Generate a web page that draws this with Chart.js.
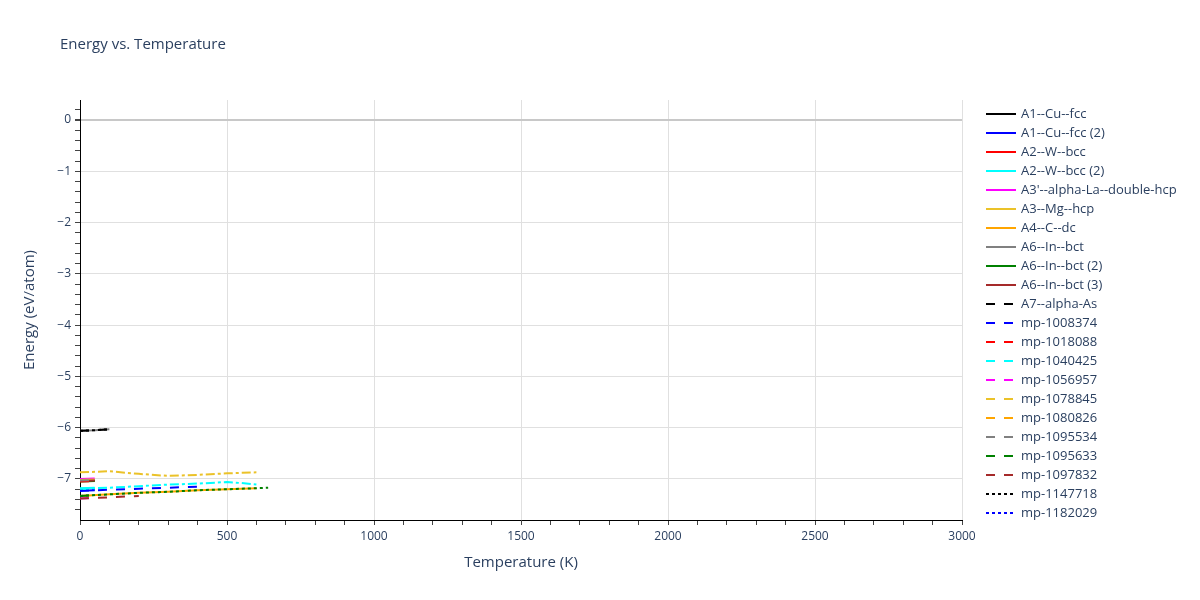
<!DOCTYPE html>
<html>
<head>
<meta charset="utf-8">
<title>Energy vs. Temperature</title>
<script src="https://cdn.jsdelivr.net/npm/chart.js@4/dist/chart.umd.min.js"></script>
<style>
  html, body { margin: 0; padding: 0; background: #fff; }
  #wrap { width: 1200px; height: 600px; position: relative; }
</style>
</head>
<body>
<div id="wrap"><canvas id="energyChart" width="1200" height="600"></canvas></div>
<script>
// Nombres de las series (las 22 primeras salen en la leyenda)
const seriesNames = [
  "A1--Cu--fcc", "A1--Cu--fcc (2)", "A2--W--bcc", "A2--W--bcc (2)",
  "A3'--alpha-La--double-hcp", "A3--Mg--hcp", "A4--C--dc", "A6--In--bct",
  "A6--In--bct (2)", "A6--In--bct (3)", "A7--alpha-As", "mp-1008374",
  "mp-1018088", "mp-1040425", "mp-1056957", "mp-1078845", "mp-1080826",
  "mp-1095534", "mp-1095633", "mp-1097832", "mp-1147718", "mp-1182029",
  "trace 23", "trace 24", "trace 25"
];

// Temperaturas (K) de cada serie
const temperatures = [
  [0, 50], [0, 50], [0, 50], [0, 50],
  [0, 50], [0, 50], [0, 100, 200, 300, 400, 500, 600], [0, 50, 100],
  [0, 50], [0, 50], [0, 50, 100], [0, 100, 200, 300, 400],
  [0, 50], [0, 50], [0, 30], [0, 50], [0, 50],
  [0, 50], [0, 50], [0, 100, 200], [0, 50, 100], [0, 50],
  [0, 100, 200, 300, 400, 500, 600, 640],
  [0, 100, 200, 300, 400, 500, 550, 600],
  [0, 100, 200, 300, 400, 500, 600]
];

// Energías (eV/atom) de cada serie
const energies = [
  [-7.04, -7.03], [-7.23, -7.22], [-7.04, -7.03], [-7.18, -7.17],
  [-7.00, -6.99], [-7.02, -7.01], [-7.33, -7.30, -7.27, -7.25, -7.22, -7.20, -7.18], [-6.06, -6.05, -6.03],
  [-7.05, -7.04], [-7.04, -7.03], [-6.06, -6.05, -6.03], [-7.23, -7.21, -7.19, -7.17, -7.15],
  [-7.05, -7.04], [-7.19, -7.18], [-7.38, -7.37], [-7.02, -7.01], [-7.33, -7.32],
  [-7.03, -7.02], [-7.33, -7.32], [-7.38, -7.36, -7.33], [-6.06, -6.05, -6.03], [-7.22, -7.21],
  [-7.33, -7.30, -7.27, -7.25, -7.22, -7.20, -7.18, -7.17],
  [-7.19, -7.17, -7.14, -7.11, -7.09, -7.06, -7.08, -7.11],
  [-6.87, -6.85, -6.90, -6.94, -6.92, -6.89, -6.87]
];

// Ejes
const xTickStep = 100;
const xLabelEvery = 500;
const yTickStep = 0.2;

const palette = ["#000000", "#0000ff", "#ff0000", "#00ffff", "#ff00ff",
                 "#ebc229", "#ffa500", "#808080", "#008000", "#a52a2a"];
const dashes = { solid: [], dash: [9, 9], dot: [3, 3], dashdot: [9, 3, 3, 3] };
const dashOrder = ["solid", "dash", "dot", "dashdot"];
const legendCount = 22;
const textColor = "#2a3f5f";
const fontFamily = "'Open Sans', 'DejaVu Sans', sans-serif";

function styleFor(i) {
  if (i === 22) return { color: palette[8], dash: dashes.dot };
  if (i === 23) return { color: palette[3], dash: dashes.dashdot };
  if (i === 24) return { color: palette[5], dash: dashes.dashdot };
  return { color: palette[i % 10], dash: dashes[dashOrder[Math.floor(i / 10)]] };
}

function buildDatasets() {
  return seriesNames.map((name, i) => {
    const st = styleFor(i);
    return {
      label: name,
      data: temperatures[i].map((t, k) => ({ x: t, y: energies[i][k] })),
      borderColor: st.color,
      backgroundColor: st.color,
      borderDash: st.dash,
      borderWidth: 2,
      pointRadius: 0,
      pointHoverRadius: 0,
      tension: 0,
      fill: false,
      order: -i // las últimas series quedan encima, como en el original
    };
  });
}

const isMultiple = (v, step) => Math.abs(v / step - Math.round(v / step)) < 1e-6;

// Titulo y leyenda dibujados a mano para imitar el original
const decorPlugin = {
  id: "decor",
  afterDraw(chart) {
    const ctx = chart.ctx;
    ctx.save();
    ctx.fillStyle = textColor;
    ctx.font = "15px " + fontFamily;
    ctx.textBaseline = "middle";
    ctx.textAlign = "left";
    ctx.fillText("Energy vs. Temperature", 60, 45);

    ctx.font = "13px " + fontFamily;
    chart.data.datasets.slice(0, legendCount).forEach((ds, i) => {
      const y = 114 + i * 19;
      ctx.strokeStyle = ds.borderColor;
      ctx.lineWidth = 2;
      ctx.setLineDash(ds.borderDash);
      ctx.beginPath();
      ctx.moveTo(986, y);
      ctx.lineTo(1016, y);
      ctx.stroke();
      ctx.setLineDash([]);
      ctx.fillStyle = textColor;
      ctx.fillText(ds.label, 1021, y);
    });
    ctx.restore();
  }
};

new Chart(document.getElementById("energyChart"), {
  type: "line",
  data: { datasets: buildDatasets() },
  plugins: [decorPlugin],
  options: {
    responsive: false,
    animation: false,
    layout: { padding: { top: 100, right: 238, left: 0, bottom: 0 } },
    plugins: {
      legend: { display: false },
      title: { display: false },
      tooltip: { enabled: false }
    },
    scales: {
      x: {
        type: "linear",
        min: 0,
        max: 3000,
        afterFit: s => { s.height = 80; },
        border: { display: true, color: "#000", width: 1 },
        grid: {
          color: c => (c.tick && c.tick.value > 0 && isMultiple(c.tick.value, xLabelEvery)) ? "#e0e0e0" : "rgba(0,0,0,0)",
          tickColor: "#444",
          tickLength: 5,
          drawTicks: true
        },
        ticks: {
          stepSize: xTickStep,
          autoSkip: false,
          maxRotation: 0,
          padding: 4,
          color: textColor,
          font: { family: fontFamily, size: 12 },
          callback: v => isMultiple(v, xLabelEvery) ? String(v) : ""
        },
        title: {
          display: true,
          text: "Temperature (K)",
          color: textColor,
          font: { family: fontFamily, size: 15 },
          padding: { top: 0, bottom: 28 }
        }
      },
      y: {
        type: "linear",
        min: -7.8,
        max: 0.39,
        afterFit: s => { s.width = 80; },
        border: { display: true, color: "#000", width: 1 },
        grid: {
          color: c => {
            if (!c.tick) return "rgba(0,0,0,0)";
            if (Math.abs(c.tick.value) < 1e-6) return "#c8c8c8";
            return isMultiple(c.tick.value, 1) ? "#e0e0e0" : "rgba(0,0,0,0)";
          },
          lineWidth: c => (c.tick && Math.abs(c.tick.value) < 1e-6) ? 2 : 1,
          tickColor: "#444",
          tickLength: 5,
          drawTicks: true
        },
        ticks: {
          stepSize: yTickStep,
          includeBounds: false,
          autoSkip: false,
          padding: 4,
          color: textColor,
          font: { family: fontFamily, size: 12 },
          callback: v => {
            if (!isMultiple(v, 1)) return "";
            const n = Math.round(v);
            return n < 0 ? "\u2212" + Math.abs(n) : String(n);
          }
        },
        title: {
          display: true,
          text: "Energy (eV/atom)",
          color: textColor,
          font: { family: fontFamily, size: 15 },
          padding: { top: 21, bottom: 0 }
        }
      }
    }
  }
});
</script>
</body>
</html>
